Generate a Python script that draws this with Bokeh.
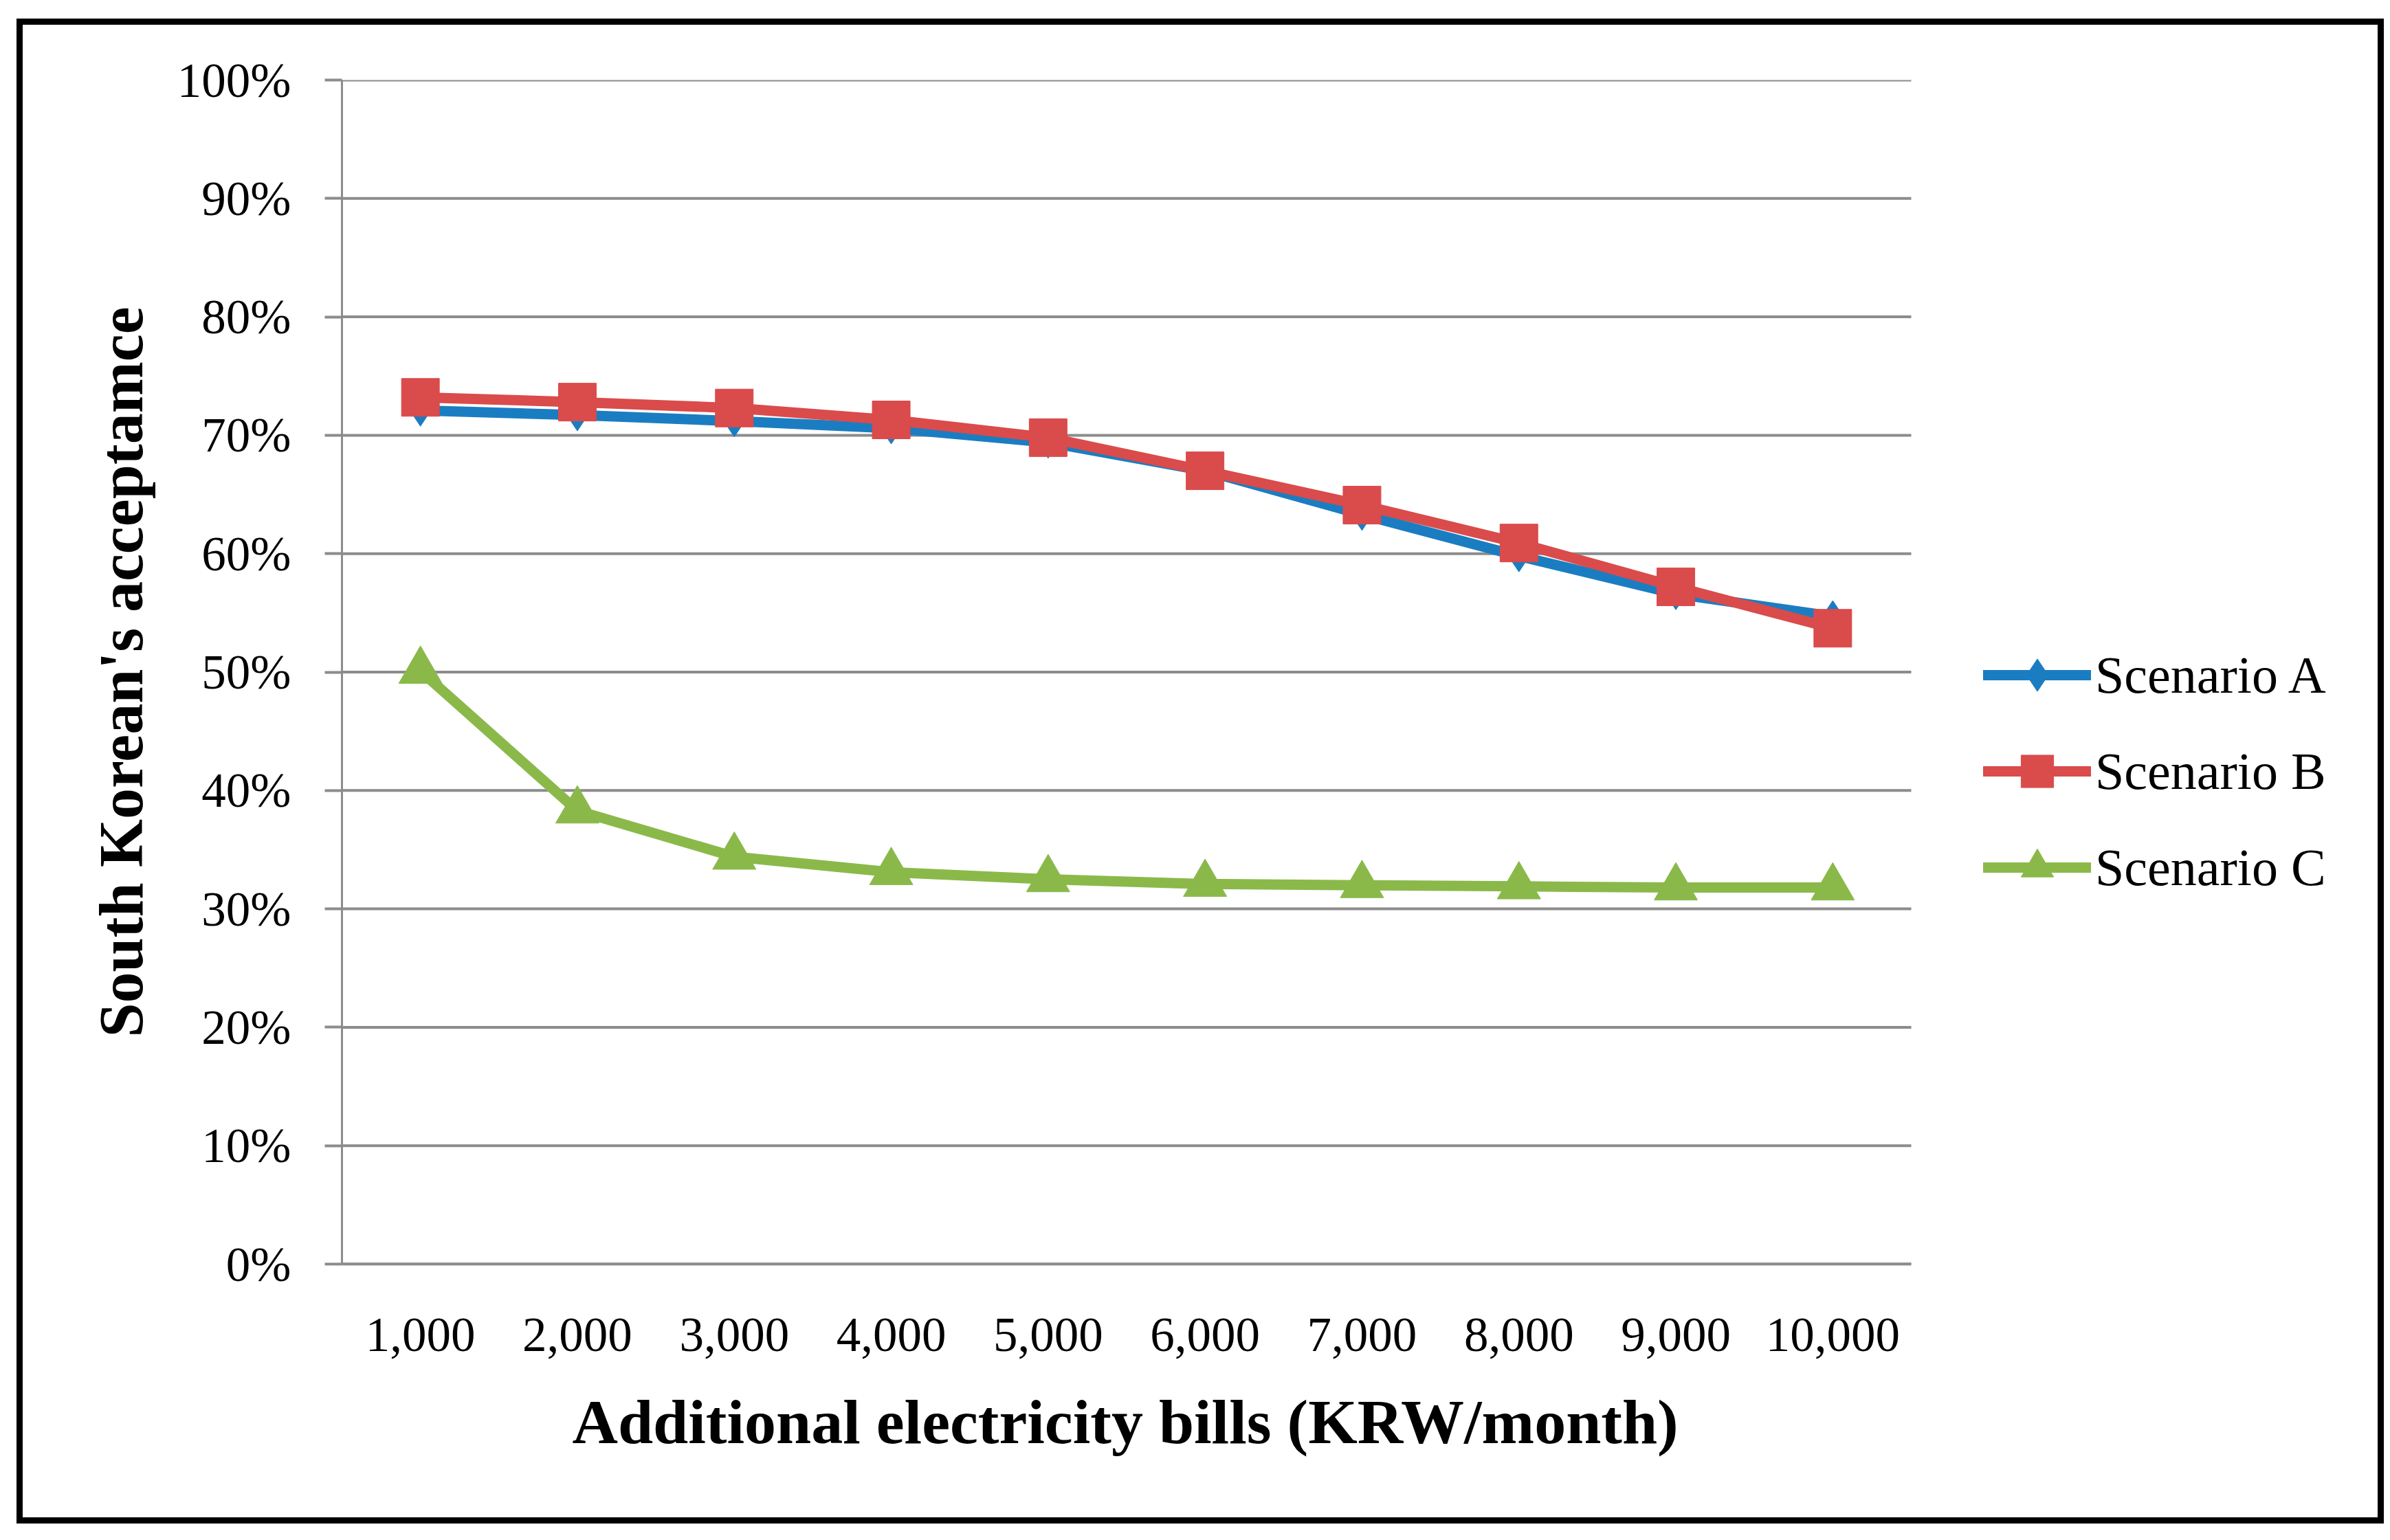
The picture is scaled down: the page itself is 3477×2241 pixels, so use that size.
from bokeh.plotting import figure
from bokeh.models import (Range1d, FixedTicker, PrintfTickFormatter,
                          Legend, LegendItem, ColumnDataSource, Title)
from bokeh.embed import file_html
from bokeh.resources import INLINE

# ---- data ----
bills = ["1,000", "2,000", "3,000", "4,000", "5,000",
         "6,000", "7,000", "8,000", "9,000", "10,000"]
scenario_a = [72.1, 71.7, 71.2, 70.6, 69.4, 67.0, 63.3, 59.8, 56.6, 54.7]
scenario_b = [73.2, 72.8, 72.3, 71.3, 69.8, 67.0, 64.1, 60.9, 57.2, 53.7]
scenario_c = [50.1, 38.3, 34.4, 33.1, 32.5, 32.1, 32.0, 31.9, 31.8, 31.8]
y_ticks = [0, 10, 20, 30, 40, 50, 60, 70, 80, 90, 100]
series_names = ["Scenario A", "Scenario B", "Scenario C"]
x_title = "Additional electricity bills (KRW/month)"
y_title = "South Korean's acceptamce"

BLUE = "#1B7DC1"
RED = "#DA4B4B"
GREEN = "#8AB94A"
GRAY = "#8C8C8C"
SERIF = "Liberation Serif"

pos = list(range(len(bills)))          # category slots 0..9
src = ColumnDataSource(dict(x=pos, a=scenario_a, b=scenario_b, c=scenario_c))

# layout (canvas pixels)
W, H = 3444, 2190
LEFT, RIGHT, TOP, BOTTOM = 473, 40, 89, 378
cat_px = 2283 / len(bills)                 # width of one category slot
frame_w = W - LEFT - RIGHT
x_start = -0.5
x_end = x_start + frame_w / cat_px

p = figure(width=W, height=H, x_range=Range1d(x_start, x_end),
           y_range=Range1d(0, 100), output_backend="svg", toolbar_location=None,
           min_border_left=LEFT, min_border_right=RIGHT, min_border_top=TOP,
           min_border_bottom=BOTTOM)
p.margin = (27, 0, 0, 24)
p.styles = {"box-shadow": "inset 0 0 0 9px black"}
p.outline_line_color = None
p.background_fill_color = "white"
p.border_fill_alpha = 0
p.xgrid.visible = False
p.ygrid.visible = False

# horizontal gridlines over the category area only
grid_src = ColumnDataSource(dict(y=y_ticks))
p.segment(x0=-0.5, x1=len(bills) - 0.5, y0="y", y1="y", source=grid_src,
          line_color=GRAY, line_width=4)

yax = p.yaxis[0]
yax.ticker = FixedTicker(ticks=y_ticks)
yax.formatter = PrintfTickFormatter(format="%d%%")
yax.minor_tick_line_color = None
yax.major_tick_out = 25
yax.major_tick_in = 0
yax.major_tick_line_color = GRAY
yax.major_tick_line_width = 4
yax.axis_line_color = GRAY
yax.axis_line_width = 3
yax.major_label_text_font = SERIF
yax.major_label_text_font_size = "71px"
yax.major_label_text_color = "black"
yax.major_label_standoff = 49
yax.axis_label = y_title
yax.axis_label_text_font = SERIF
yax.axis_label_text_font_style = "bold"
yax.axis_label_text_font_size = "90px"
yax.axis_label_text_color = "black"
yax.axis_label_standoff = 29

xax = p.xaxis[0]
xax.ticker = FixedTicker(ticks=pos)
xax.major_label_overrides = {i: b for i, b in zip(pos, bills)}
xax.bounds = (-0.5, len(bills) - 0.5)
xax.major_tick_line_color = None
xax.minor_tick_line_color = None
xax.axis_line_color = GRAY
xax.axis_line_width = 4
xax.major_label_text_font = SERIF
xax.major_label_text_font_size = "71px"
xax.major_label_text_color = "black"
xax.major_label_standoff = 73

# x-axis title, centred under the category area (not the wider frame)
xt = Title(text=x_title, align="left", offset=335, text_font=SERIF,
           text_font_size="92px", text_font_style="bold", text_color="black")
try:
    xt.standoff = 95
except Exception:
    pass
p.add_layout(xt, "below")

common = dict(line_width=15, line_join="round", line_cap="round")
la = p.line("x", "a", source=src, line_color=BLUE, **common)
sa = p.scatter("x", "a", source=src, marker="diamond", size=46,
               fill_color=BLUE, line_color=BLUE)
lb = p.line("x", "b", source=src, line_color=RED, **common)
sb = p.scatter("x", "b", source=src, marker="square", size=55,
               fill_color=RED, line_color=RED)
lc = p.line("x", "c", source=src, line_color=GREEN, **common)
sc = p.scatter("x", "c", source=src, marker="triangle", size=63,
               fill_color=GREEN, line_color=GREEN)

legend = Legend(items=[LegendItem(label=series_names[0], renderers=[la, sa]),
                       LegendItem(label=series_names[1], renderers=[lb, sb]),
                       LegendItem(label=series_names[2], renderers=[lc, sc])],
                location=(2388, 518), glyph_width=157, glyph_height=118,
                spacing=22, label_standoff=6, padding=0, margin=0,
                border_line_color=None, background_fill_alpha=0,
                label_text_font=SERIF, label_text_font_size="76px",
                label_text_color="black")
p.add_layout(legend)

open("out.html", "w").write(file_html(p, INLINE))
